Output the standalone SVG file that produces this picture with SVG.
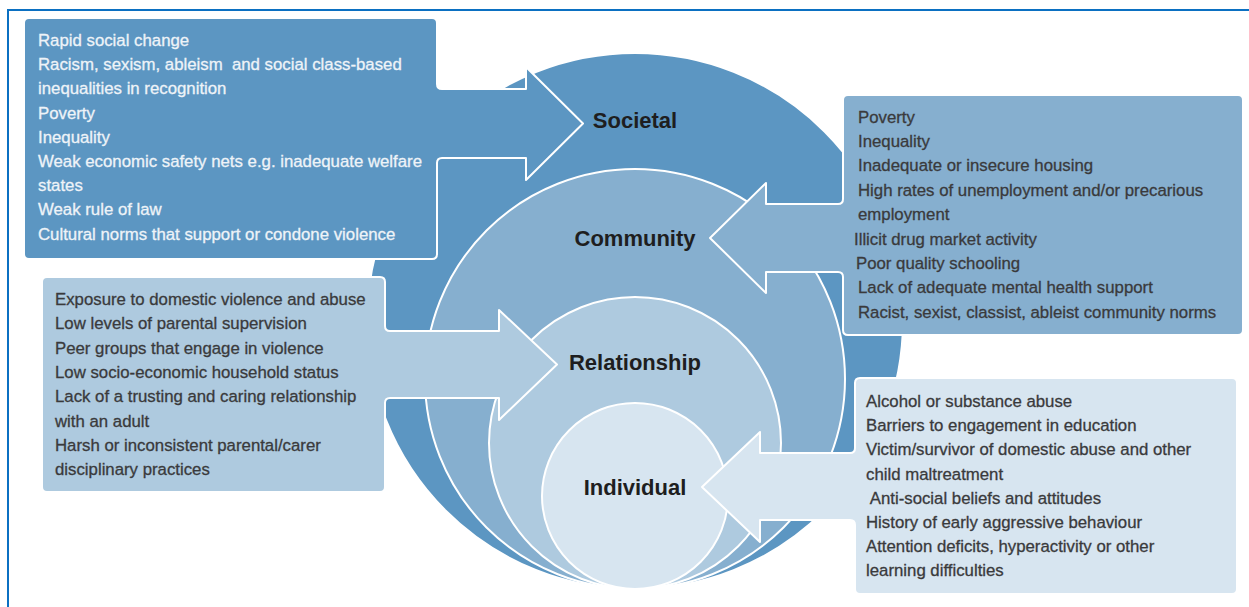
<svg xmlns="http://www.w3.org/2000/svg" width="1249" height="607" viewBox="0 0 1249 607">
  <style>
    .frame { fill: none; stroke: #0B70C2; stroke-width: 2; }
    .ring { stroke: #FFFFFF; stroke-width: 2; }
    .soc { fill: #5C96C2; }
    .com { fill: #86AFCF; }
    .rel { fill: #AECADF; }
    .ind { fill: #D7E5F0; }
    .panel { stroke: #FFFFFF; stroke-width: 2; stroke-linejoin: round; }
    .item { font-family: "Liberation Sans", Arial, sans-serif; font-size: 16.8px; fill: #3A3A3C; stroke: #3A3A3C; stroke-width: 0.3px; }
    .item.light { fill: #EEF3F8; stroke: #EEF3F8; }
    .label { font-family: "Liberation Sans", Arial, sans-serif; font-size: 22px; font-weight: bold; fill: #1E1E20; text-anchor: middle; }
  </style>

  <!-- page frame -->
  <path class="frame" d="M 8,607 V 10 H 1249"/>

  <!-- nested ecological levels -->
  <g id="level-societal">
    <circle class="ring soc" cx="635" cy="321" r="268"/>
  </g>
  <g id="level-community">
    <circle class="ring com" cx="635" cy="379" r="210"/>
  </g>
  <g id="level-relationship">
    <circle class="ring rel" cx="635" cy="443" r="146"/>
  </g>
  <g id="level-individual">
    <circle class="ring ind" cx="635" cy="496" r="93"/>
  </g>

  <!-- factor panels with their pointers into each level -->
  <g id="connectors">
    <path id="arrow-societal" class="panel soc" d="M 29,18 H 432 Q 437,18 437,23 V 84 Q 437,89 442,89 H 526 V 67 L 583,123.5 L 526,180 V 158 H 442 Q 437,158 437,163 V 254 Q 437,259 432,259 H 29 Q 24,259 24,254 V 23 Q 24,18 29,18 Z"/>
    <path id="arrow-community" class="panel com" d="M 848,95 H 1238 Q 1243,95 1243,100 V 330 Q 1243,335 1238,335 H 848 Q 843,335 843,330 V 277 Q 843,272 838,272 H 766 V 293 L 710,238 L 766,183 V 204 H 838 Q 843,204 843,199 V 100 Q 843,95 848,95 Z"/>
    <path id="arrow-relationship" class="panel rel" d="M 47,277 H 380 Q 385,277 385,282 V 326 Q 385,331 390,331 H 499 V 310 L 557,364.5 L 499,420 V 398 H 390 Q 385,398 385,403 V 487 Q 385,492 380,492 H 47 Q 42,492 42,487 V 282 Q 42,277 47,277 Z"/>
    <path id="arrow-individual" class="panel ind" d="M 860,378 H 1232 Q 1237,378 1237,383 V 589 Q 1237,594 1232,594 H 860 Q 855,594 855,589 V 525 Q 855,520 850,520 H 760 V 542 L 702,487 L 760,432 V 453 H 850 Q 855,453 855,448 V 383 Q 855,378 860,378 Z"/>
  </g>

  <g id="societal-factors">
    <text class="item light" x="38" y="46">Rapid social change</text>
    <text class="item light" x="38" y="70.2" xml:space="preserve" style="white-space:pre">Racism, sexism, ableism  and social class-based</text>
    <text class="item light" x="38" y="94.4">inequalities in recognition</text>
    <text class="item light" x="38" y="118.6">Poverty</text>
    <text class="item light" x="38" y="142.8">Inequality</text>
    <text class="item light" x="38" y="167">Weak economic safety nets e.g. inadequate welfare</text>
    <text class="item light" x="38" y="191.2">states</text>
    <text class="item light" x="38" y="215.4">Weak rule of law</text>
    <text class="item light" x="38" y="239.6">Cultural norms that support or condone violence</text>
  </g>

  <g id="community-factors">
    <text class="item" x="858" y="122.5">Poverty</text>
    <text class="item" x="858" y="146.9">Inequality</text>
    <text class="item" x="858" y="171.3">Inadequate or insecure housing</text>
    <text class="item" x="858" y="195.7">High rates of unemployment and/or precarious</text>
    <text class="item" x="858" y="220.1">employment</text>
    <text class="item" x="854" y="244.5">Illicit drug market activity</text>
    <text class="item" x="856" y="268.9">Poor quality schooling</text>
    <text class="item" x="858" y="293.3">Lack of adequate mental health support</text>
    <text class="item" x="858" y="317.7">Racist, sexist, classist, ableist community norms</text>
  </g>

  <g id="relationship-factors">
    <text class="item" x="55" y="305">Exposure to domestic violence and abuse</text>
    <text class="item" x="55" y="329.3">Low levels of parental supervision</text>
    <text class="item" x="55" y="353.6">Peer groups that engage in violence</text>
    <text class="item" x="55" y="377.9">Low socio-economic household status</text>
    <text class="item" x="55" y="402.2">Lack of a trusting and caring relationship</text>
    <text class="item" x="55" y="426.5">with an adult</text>
    <text class="item" x="55" y="450.8">Harsh or inconsistent parental/carer</text>
    <text class="item" x="55" y="475.1">disciplinary practices</text>
  </g>

  <g id="individual-factors">
    <text class="item" x="866" y="407">Alcohol or substance abuse</text>
    <text class="item" x="866" y="431.2">Barriers to engagement in education</text>
    <text class="item" x="866" y="455.4">Victim/survivor of domestic abuse and other</text>
    <text class="item" x="866" y="479.6">child maltreatment</text>
    <text class="item" x="866" y="503.8" xml:space="preserve" style="white-space:pre"> Anti-social beliefs and attitudes</text>
    <text class="item" x="866" y="528">History of early aggressive behaviour</text>
    <text class="item" x="866" y="552.2">Attention deficits, hyperactivity or other</text>
    <text class="item" x="866" y="576.4">learning difficulties</text>
  </g>

  <!-- level names -->
  <g id="level-labels">
    <text class="label" x="635" y="128">Societal</text>
    <text class="label" x="635" y="246">Community</text>
    <text class="label" x="635" y="370">Relationship</text>
    <text class="label" x="635" y="495">Individual</text>
  </g>
</svg>
